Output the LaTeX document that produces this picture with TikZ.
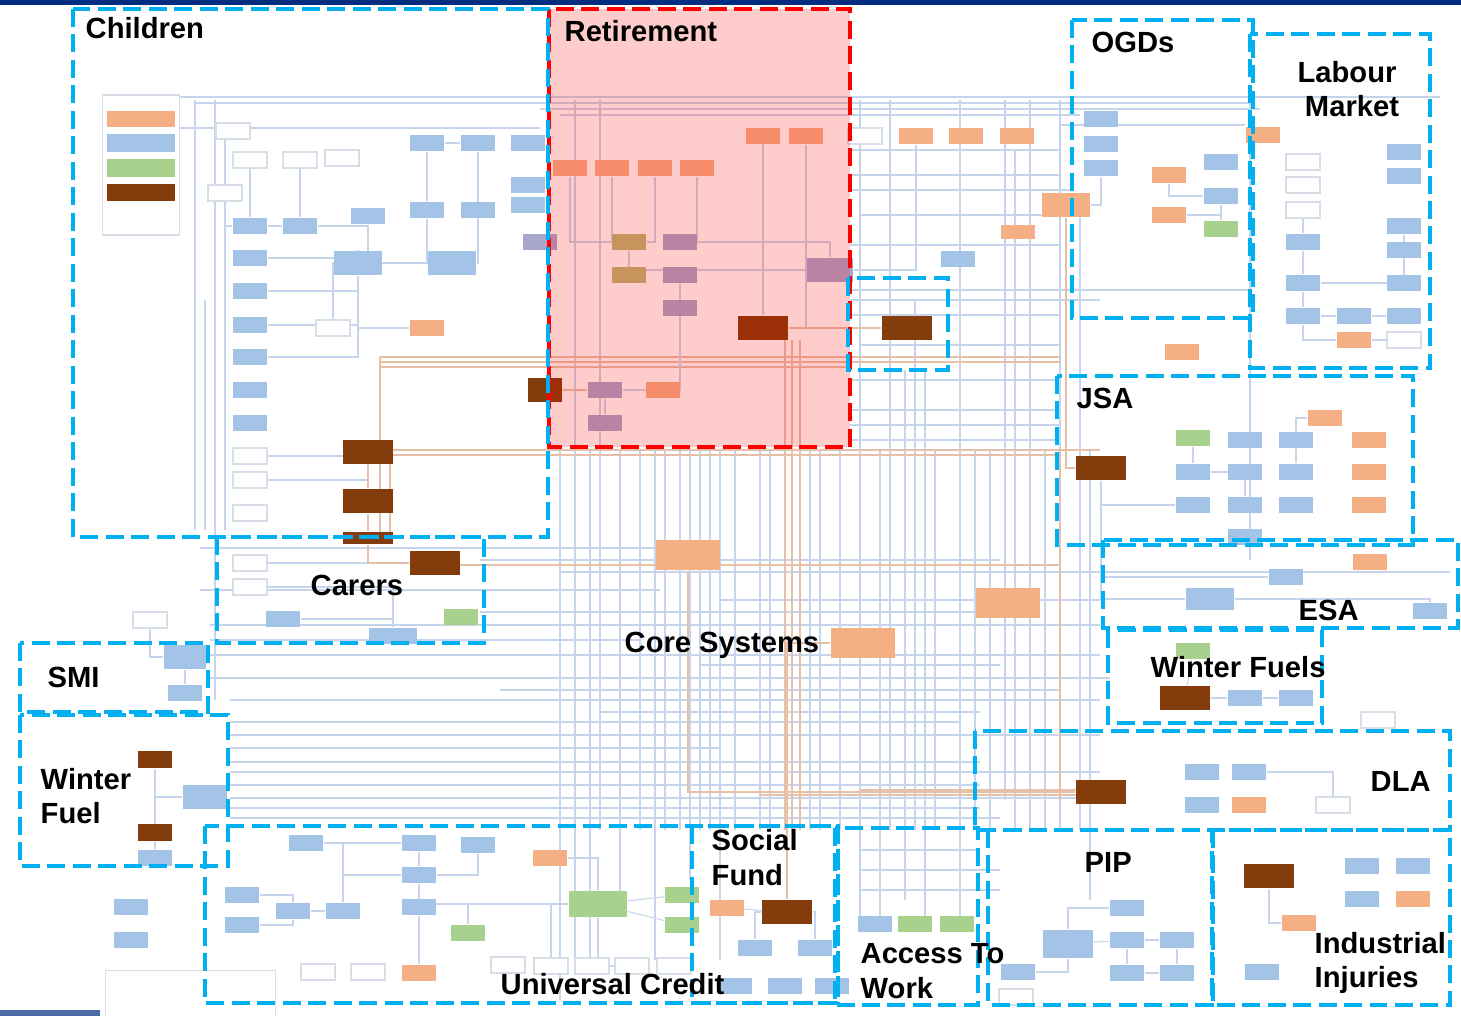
\documentclass[tikz,border=0pt]{standalone}
\usepackage{fontspec}
\setmainfont{Liberation Sans}
\usetikzlibrary{backgrounds}
\definecolor{boxcyan}{RGB}{0,176,240}
\definecolor{navy}{RGB}{0,45,128}
\definecolor{sysblue}{RGB}{163,196,230}
\definecolor{sysorange}{RGB}{244,176,132}
\definecolor{sysbrown}{RGB}{132,60,12}
\definecolor{sysgreen}{RGB}{169,209,142}
\definecolor{syspurple}{RGB}{168,166,204}
\definecolor{sysolive}{RGB}{186,186,118}
\definecolor{extgrey}{RGB}{215,222,232}
\definecolor{linkblue}{RGB}{198,213,236}
\definecolor{linkorange}{RGB}{232,192,168}
\tikzset{
  zone/.style={draw=boxcyan, line width=1.15pt, dash pattern=on 1.8mm off 0.75mm},
  zonered/.style={draw=red, line width=1.15pt, dash pattern=on 1.8mm off 0.75mm},
  lbl/.style={font=\fontsize{8.3}{10}\selectfont\bfseries, inner sep=0pt},
  sys/.style={minimum width=3.4mm, minimum height=1.6mm, inner sep=0pt},
  blu/.style={sys, fill=sysblue},
  org/.style={sys, fill=sysorange},
  grn/.style={sys, fill=sysgreen},
  pur/.style={sys, fill=syspurple},
  olv/.style={sys, fill=sysolive},
  ext/.style={sys, draw=extgrey, line width=0.3pt, fill=white},
  dwp/.style={sys, fill=sysbrown, minimum width=5mm, minimum height=2.4mm},
  core/.style={sys, fill=sysorange, minimum width=6.4mm, minimum height=3mm},
  link/.style={draw=linkblue, line width=0.3pt},
  olink/.style={draw=linkorange, line width=0.45pt},
}
\begin{document}
\begin{tikzpicture}[x=0.1mm, y=-0.1mm]
\useasboundingbox (0,0) rectangle (1461,1016);
% header and footer bars
\fill[navy] (0,0) rectangle (1461,5);
\fill[navy!70!white] (0,1010) rectangle (100,1016);

% ---- systems: Children
\node[ext, minimum width=7.7mm, minimum height=14mm] (key) at (141,165) {};
\node[org, minimum width=6.8mm] (keyorg) at (141,119) {};
\node[blu, minimum width=6.8mm, minimum height=1.8mm] (keyblu) at (141,143) {};
\node[grn, minimum width=6.8mm, minimum height=1.8mm] (keygrn) at (141,168) {};
\node[dwp, minimum width=6.8mm, minimum height=1.7mm] (keydwp) at (141,193) {};
\node[ext, minimum width=6.8mm, minimum height=2.2mm, draw=none] (keyext) at (141,217) {};
\node[ext] (willaw) at (233,131) {};
\node[ext] (extA) at (250,160) {};
\node[ext] (extB) at (300,160) {};
\node[ext] (extC) at (342,158) {};
\node[ext] (extD) at (225,193) {};
\node[blu] (edc) at (250,226) {};
\node[blu] (bancs) at (300,226) {};
\node[blu] (mi) at (368,216) {};
\node[blu] (cscs) at (427,143) {};
\node[blu] (csaacc) at (478,143) {};
\node[blu] (csaresp) at (528,143) {};
\node[blu] (ats) at (528,185) {};
\node[blu] (bats) at (528,205) {};
\node[blu] (oldleg) at (427,210) {};
\node[blu] (tally) at (478,210) {};
\node[pur] (csacc) at (540,242) {};
\node[blu, minimum width=4.8mm, minimum height=2.4mm] (cms) at (358,263) {};
\node[blu, minimum width=4.8mm, minimum height=2.4mm] (cstwo) at (452,263) {};
\node[blu] (major) at (250,258) {};
\node[blu] (bankw) at (250,291) {};
\node[blu] (webp) at (250,325) {};
\node[blu] (advis) at (250,357) {};
\node[blu] (decis) at (250,390) {};
\node[blu] (ccd) at (250,423) {};
\node[ext] (extE) at (333,328) {};
\node[org] (isc) at (427,328) {};
\node[ext] (extF) at (250,456) {};
\node[ext] (extG) at (250,480) {};
\node[ext] (extH) at (250,513) {};
\node[dwp] (cbcs) at (368,452) {};
\node[dwp] (cbcstwo) at (368,501) {};
\node[dwp, minimum height=1.2mm] (cbcsthree) at (368,538) {};
\node[dwp, minimum width=3.4mm] (smidwp) at (545,390) {};

% ---- systems: Retirement
\node[org] (nps) at (763,136) {};
\node[org] (cmsr) at (806,136) {};
\node[org] (verify) at (570,168) {};
\node[org] (paf) at (612,168) {};
\node[org] (notify) at (655,168) {};
\node[org] (callc) at (697,168) {};
\node[olv] (gfsp) at (629,242) {};
\node[olv] (defsp) at (629,275) {};
\node[pur] (ptpole) at (680,242) {};
\node[pur] (psod) at (680,275) {};
\node[pur] (pdlsc) at (680,308) {};
\node[pur, minimum width=4.6mm, minimum height=2.4mm] (ptpload) at (830,270) {};
\node[dwp] (pscs) at (763,328) {};
\node[pur] (msdsc) at (605,390) {};
\node[org] (mags) at (663,390) {};
\node[pur] (bcad) at (605,423) {};
\node[dwp] (iscs) at (907,328) {};

% ---- systems: upper middle and OGDs
\node[ext] (cbchild) at (865,136) {};
\node[org] (msdp) at (916,136) {};
\node[org] (idc) at (966,136) {};
\node[org] (mser) at (1017,136) {};
\node[org, minimum width=4.8mm, minimum height=2.4mm] (pal) at (1066,205) {};
\node[org, minimum height=1.4mm] (strat) at (1018,232) {};
\node[blu] (pes) at (958,259) {};
\node[blu] (arts) at (1101,119) {};
\node[blu] (find) at (1101,144) {};
\node[blu] (cdrt) at (1101,168) {};
\node[org] (gro) at (1169,175) {};
\node[org] (ogds) at (1169,215) {};
\node[blu] (bict) at (1221,162) {};
\node[blu] (tuo) at (1221,196) {};
\node[grn] (bsp) at (1221,229) {};
\node[org] (bmo) at (1182,352) {};
\node[org] (wca) at (1263,135) {};

% ---- systems: Labour Market
\node[ext] (extLa) at (1303,162) {};
\node[ext] (extLb) at (1303,185) {};
\node[ext] (extLc) at (1303,210) {};
\node[blu] (espa) at (1404,152) {};
\node[blu] (espb) at (1404,176) {};
\node[blu] (lmsa) at (1303,242) {};
\node[blu] (lmsb) at (1404,226) {};
\node[blu] (lmsc) at (1404,250) {};
\node[blu] (lms) at (1303,283) {};
\node[blu] (lmsd) at (1404,283) {};
\node[blu] (pnp) at (1303,316) {};
\node[blu] (lmscm) at (1354,316) {};
\node[blu] (lmse) at (1404,316) {};
\node[org] (lmsorg) at (1354,340) {};
\node[ext] (extLd) at (1404,340) {};

% ---- systems: JSA, ESA, Winter Fuels
\node[dwp] (jsaps) at (1101,468) {};
\node[grn] (jsaon) at (1193,438) {};
\node[blu] (jsaa) at (1245,440) {};
\node[blu] (jsab) at (1296,440) {};
\node[org] (msg) at (1325,418) {};
\node[org] (jsoa) at (1369,440) {};
\node[org] (jsob) at (1369,472) {};
\node[org] (jsoc) at (1369,505) {};
\node[blu] (cmsj) at (1193,472) {};
\node[blu] (cbs) at (1245,472) {};
\node[blu] (srcomp) at (1296,472) {};
\node[blu] (nts) at (1193,505) {};
\node[blu] (cmsnrd) at (1245,505) {};
\node[blu] (kis) at (1296,505) {};
\node[blu] (jsad) at (1245,537) {};
\node[org] (esaa) at (1370,562) {};
\node[blu] (esab) at (1286,577) {};
\node[blu, minimum width=4.8mm, minimum height=2.2mm] (jsacash) at (1210,599) {};
\node[blu] (esac) at (1430,611) {};
\node[grn] (wfgrn) at (1193,651) {};
\node[dwp] (wpcs) at (1185,698) {};
\node[blu] (wfa) at (1245,698) {};
\node[blu] (wfb) at (1296,698) {};
\node[ext] (extW) at (1378,720) {};

% ---- systems: DLA, PIP, Industrial Injuries
\node[dwp] (dlacs) at (1101,792) {};
\node[blu] (dlaa) at (1202,772) {};
\node[blu] (dlab) at (1249,772) {};
\node[blu] (dlac) at (1202,805) {};
\node[org] (dlao) at (1249,805) {};
\node[ext] (extD2) at (1333,805) {};
\node[blu, minimum width=5mm, minimum height=2.8mm] (pipcs) at (1068,944) {};
\node[blu] (pipa) at (1127,908) {};
\node[blu] (pipb) at (1127,940) {};
\node[blu] (pipc) at (1177,940) {};
\node[blu] (pipd) at (1127,973) {};
\node[blu] (pipe) at (1177,973) {};
\node[blu] (pipf) at (1018,972) {};
\node[ext] (extP) at (1016,997) {};
\node[dwp] (iics) at (1269,876) {};
\node[blu] (iia) at (1362,866) {};
\node[blu] (iib) at (1413,866) {};
\node[blu] (iic) at (1362,899) {};
\node[org] (iio) at (1413,899) {};
\node[org] (iip) at (1299,923) {};
\node[blu] (iid) at (1262,972) {};

% ---- systems: Access To Work, Social Fund, Universal Credit
\node[blu] (atwa) at (875,924) {};
\node[grn] (atwb) at (915,924) {};
\node[grn] (atwc) at (957,924) {};
\node[dwp] (sfcs) at (787,912) {};
\node[org] (sfo) at (727,908) {};
\node[blu] (sfa) at (755,948) {};
\node[blu] (sfb) at (815,948) {};
\node[blu] (sfc) at (735,986) {};
\node[blu] (sfd) at (785,986) {};
\node[blu] (sfe) at (832,986) {};
\node[blu] (ucap) at (306,843) {};
\node[blu] (ucwpm) at (419,843) {};
\node[blu] (ucwsp) at (478,845) {};
\node[blu] (ucpmx) at (419,875) {};
\node[blu] (ucefs) at (419,907) {};
\node[blu] (ucbw) at (242,895) {};
\node[blu] (ucqas) at (242,925) {};
\node[blu] (ucledm) at (293,911) {};
\node[blu] (ucleem) at (343,911) {};
\node[grn, minimum width=5.8mm, minimum height=2.6mm] (ucfs) at (598,904) {};
\node[grn] (ucga) at (682,895) {};
\node[grn] (ucgb) at (682,925) {};
\node[grn] (ucgc) at (468,933) {};
\node[org] (ucdms) at (550,858) {};
\node[org] (ucorg) at (419,973) {};
\node[ext] (extUa) at (318,972) {};
\node[ext] (extUb) at (368,972) {};
\node[ext] (extUc) at (508,965) {};
\node[ext] (extUd) at (551,966) {};
\node[ext] (extUe) at (592,966) {};
\node[ext] (extUf) at (632,966) {};
\node[ext] (extUg) at (674,966) {};

% ---- systems: Carers, SMI, Winter Fuel
\node[ext] (extCa) at (250,563) {};
\node[ext] (extCb) at (250,587) {};
\node[dwp] (cacs) at (435,563) {};
\node[blu] (carb) at (283,619) {};
\node[blu, minimum width=4.8mm] (carl) at (393,636) {};
\node[grn] (carg) at (461,617) {};
\node[ext] (extS) at (150,620) {};
\node[blu, minimum width=4.2mm, minimum height=2.4mm] (smips) at (185,657) {};
\node[blu] (smic) at (185,693) {};
\node[dwp, minimum width=3.4mm, minimum height=1.7mm] (wfpa) at (155,760) {};
\node[dwp, minimum width=3.4mm, minimum height=1.7mm] (wfpb) at (155,833) {};
\node[blu, minimum width=4.4mm, minimum height=2.4mm] (wfmi) at (205,797) {};
\node[blu] (wfct) at (155,858) {};
\node[blu] (lpa) at (131,907) {};
\node[blu] (lpb) at (131,940) {};
\node[ext, minimum width=17mm, minimum height=4.6mm, anchor=north west] (tblock) at (105,970) {};

% ---- core systems
\node[core] (cis) at (688,555) {};
\node[core] (drs) at (863,643) {};
\node[core] (cps) at (1008,603) {};

\begin{scope}[on background layer]
% bus lines
\foreach \y/\a/\b in {97/180/1440, 103/195/1250, 109/540/1260, 115/560/1080, 128/180/540,
  125/1060/1245, 150/850/1060, 175/850/1060, 190/850/1070, 215/860/1060, 245/850/1060,
  290/850/1250, 300/850/1100, 315/850/1060, 345/860/1060, 380/850/1060, 410/850/1060,
  425/850/1060, 440/850/1060, 548/200/700, 560/480/1000, 572/560/1450, 590/200/660,
  600/720/1100, 612/480/980, 625/210/1100, 640/210/640, 655/200/1100, 665/700/1000,
  678/210/1110, 690/500/1060, 700/230/1100, 712/600/980, 722/230/960, 735/230/1100,
  748/230/720, 762/230/980, 772/230/1100, 785/230/980, 798/230/1100, 808/230/980,
  818/230/1000, 850/860/980, 870/860/1000, 890/860/1000}
  \draw[link] (\a,\y) -- (\b,\y);
\foreach \x/\a/\b in {195/100/530, 205/300/530, 215/100/700, 225/130/530, 560/450/1000,
  575/100/960, 590/450/960, 600/100/830, 620/450/900, 640/450/830, 655/450/960,
  665/450/830, 680/450/830, 690/450/880, 700/450/830, 710/450/830, 720/450/960,
  735/450/830, 760/450/830, 770/450/830, 810/450/830, 820/450/830, 840/450/830,
  860/100/930, 880/450/930, 890/100/830, 905/370/900, 915/300/830, 925/370/920,
  935/450/830, 960/100/920, 975/450/830, 990/450/830, 1005/100/800, 1015/150/830,
  1030/100/830, 1045/450/830, 1060/100/830, 1080/200/830, 1090/450/900, 1250/100/560}
  \draw[link] (\x,\a) -- (\x,\b);
\foreach \y/\a/\b in {357/380/1060, 362/380/1060, 367/380/850, 450/380/1100, 455/390/1060,
  565/460/1060, 790/860/1100, 795/760/1100}
  \draw[olink] (\a,\y) -- (\b,\y);
\foreach \x/\a/\b in {380/357/540, 390/455/540, 785/340/830, 792/340/830, 800/340/830,
  1060/450/800}
  \draw[olink] (\x,\a) -- (\x,\b);
% connectors
\draw[link] (edc) -- (bancs);
\draw[link] (bancs) -| (mi);
\draw[link] (extA) -- (edc);
\draw[link] (extB) -- (bancs);
\draw[link] (extD) |- (edc);
\draw[link] (mi) |- (cms);
\draw[link] (cscs) -- (csaacc);
\draw[link] (cscs) -- (oldleg);
\draw[link] (csaacc) |- (cstwo);
\draw[link] (oldleg) |- (cms);
\draw[link] (major) -| (cms);
\draw[link] (bankw) -| (cms);
\draw[link] (webp) -| (cms);
\draw[link] (advis) -| (cms);
\draw[link] (cms) |- (isc);
\draw[link] (extE) |- (cms);
\draw[link] (extF) -| (cbcstwo);
\draw[link] (extG) -| (cbcstwo);
\draw[olink] (cbcs) -- (cbcstwo);
\draw[olink] (cbcstwo) -- (cbcsthree);
\draw[link] (verify) |- (gfsp);
\draw[link] (paf) |- (gfsp);
\draw[link] (notify) |- (gfsp);
\draw[link] (callc) |- (ptpole);
\draw[link] (nps) -| (pscs);
\draw[link] (cmsr) |- (pscs);
\draw[link] (gfsp) |- (ptpload);
\draw[link] (ptpole) -| (ptpload);
\draw[link] (psod) |- (msdsc);
\draw[link] (msdsc) -- (mags);
\draw[link] (msdsc) -- (bcad);
\draw[olink] (smidwp) -- (msdsc);
\draw[olink] (pscs) -- (iscs);
\draw[link] (msdp) |- (ptpload);
\draw[link] (gro) |- (tuo);
\draw[link] (ogds) -| (tuo);
\draw[link] (tuo) -- (bsp);
\draw[link] (cdrt) |- (pal);
\draw[link] (extLc) -- (lmsa);
\draw[link] (lmsa) -- (lms);
\draw[link] (lms) -| (lmsb);
\draw[link] (lms) -- (lmsd);
\draw[link] (lms) -- (pnp);
\draw[link] (pnp) -- (lmscm);
\draw[link] (lmscm) -- (lmse);
\draw[link] (pnp) |- (lmsorg);
\draw[link] (lmsorg) -- (extLd);
\draw[link] (jsaon) -- (cmsj);
\draw[link] (cmsj) -- (cbs);
\draw[link] (cmsj) -| (cmsnrd);
\draw[link] (jsaps) |- (nts);
\draw[link] (msg) -| (srcomp);
\draw[link] (msg) -| (jsab);
\draw[link] (jsaps) |- (jsacash);
\draw[link] (jsaps) |- (esab);
\draw[link] (jsacash) -| (esac);
\draw[link] (wpcs) -- (wfa);
\draw[link] (wfa) -- (wfb);
\draw[link] (wfgrn) -- (wpcs);
\draw[link] (dlab) -| (extD2);
\draw[link] (pipcs) |- (pipa);
\draw[link] (pipcs) -- (pipb);
\draw[link] (pipb) -- (pipc);
\draw[link] (pipb) -- (pipd);
\draw[link] (pipd) -- (pipe);
\draw[link] (pipc) -- (pipe);
\draw[link] (pipf) -| (pipcs);
\draw[link] (iics) |- (iip);
\draw[link] (sfo) -- (sfcs);
\draw[link] (sfcs) -| (sfa);
\draw[link] (sfcs) -| (sfb);
\draw[link] (ucbw) -| (ucledm);
\draw[link] (ucqas) -| (ucledm);
\draw[link] (ucledm) -- (ucleem);
\draw[link] (ucleem) |- (ucwpm);
\draw[link] (ucleem) |- (ucpmx);
\draw[link] (ucap) -| (ucleem);
\draw[link] (ucwpm) -- (ucpmx);
\draw[link] (ucpmx) -- (ucefs);
\draw[link] (ucefs) -- (ucorg);
\draw[link] (ucefs) |- (ucfs);
\draw[link] (ucwsp) |- (ucpmx);
\draw[link] (ucfs) -- (ucga);
\draw[link] (ucfs) -- (ucgb);
\draw[link] (ucgc) |- (ucfs);
\draw[link] (ucdms) -| (ucfs);
\draw[link] (extUd) |- (ucfs);
\draw[link] (extUf) -| (ucfs);
\draw[link] (extCa) -- (cacs);
\draw[link] (extCb) -| (carl);
\draw[link] (carb) -| (carl);
\draw[link] (extS) |- (smips);
\draw[link] (smips) -- (smic);
\draw[link] (wfpa) |- (wfmi);
\draw[link] (wfpb) |- (wfmi);
\draw[link] (wfpb) -- (wfct);
\draw[olink] (cacs) -| (cbcsthree);
\draw[olink] (jsaps) -| (pal);
\draw[olink] (dlacs) -| (cis);
\draw[olink] (sfcs) |- (drs);
\end{scope}

% Retirement highlight
\fill[red, opacity=0.2] (549,9) rectangle (850,447);
\draw[zonered] (549,9) rectangle (850,447);

% business areas
\draw[zone] (73,9) rectangle (548,537);
\draw[zone] (848,278) rectangle (948,370);
\draw[zone] (1072,20) rectangle (1253,318);
\draw[zone] (1250,34) rectangle (1430,368);
\draw[zone] (1057,376) rectangle (1413,545);
\draw[zone] (1103,540) rectangle (1458,628);
\draw[zone] (1108,630) rectangle (1322,723);
\draw[zone] (975,731) rectangle (1450,830);
\draw[zone] (988,830) rectangle (1212,1005);
\draw[zone] (1213,830) rectangle (1450,1005);
\draw[zone] (835,828) rectangle (978,1005);
\draw[zone] (692,826) rectangle (838,1003);
\draw[zone] (205,826) rectangle (838,1003);
\draw[zone] (217,537) rectangle (484,643);
\draw[zone] (20,643) rectangle (208,712);
\draw[zone] (20,715) rectangle (228,866);

% labels
\node[lbl, anchor=base west] (tChildren) at (85,39) {Children};
\node[lbl, anchor=base west] (tRetire) at (564,42) {Retirement};
\node[lbl, anchor=base west] (tOGD) at (1091,53) {OGDs};
\node[lbl, anchor=base] (tLabour) at (1347,83) {Labour};
\node[lbl, anchor=base] (tMarket) at (1352,117) {Market};
\node[lbl, anchor=base west] (tJSA) at (1076,409) {JSA};
\node[lbl, anchor=base west] (tCarers) at (310,596) {Carers};
\node[lbl, anchor=base west] (tCore) at (624,653) {Core Systems};
\node[lbl, anchor=base west] (tSMI) at (47,688) {SMI};
\node[lbl, anchor=base west] (tWinter) at (40,790) {Winter};
\node[lbl, anchor=base west] (tFuel) at (40,824) {Fuel};
\node[lbl, anchor=base west] (tESA) at (1298,621) {ESA};
\node[lbl, anchor=base west] (tWF) at (1150,678) {Winter Fuels};
\node[lbl, anchor=base west] (tDLA) at (1370,792) {DLA};
\node[lbl, anchor=base west] (tSocial) at (711,851) {Social};
\node[lbl, anchor=base west] (tFund) at (711,886) {Fund};
\node[lbl, anchor=base west] (tAccess) at (860,964) {Access To};
\node[lbl, anchor=base west] (tWork) at (860,999) {Work};
\node[lbl, anchor=base west] (tPIP) at (1084,873) {PIP};
\node[lbl, anchor=base west] (tIndus) at (1314,954) {Industrial};
\node[lbl, anchor=base west] (tInj) at (1314,988) {Injuries};
\node[lbl, anchor=base west] (tUC) at (500,995) {Universal Credit};
\end{tikzpicture}
\end{document}
